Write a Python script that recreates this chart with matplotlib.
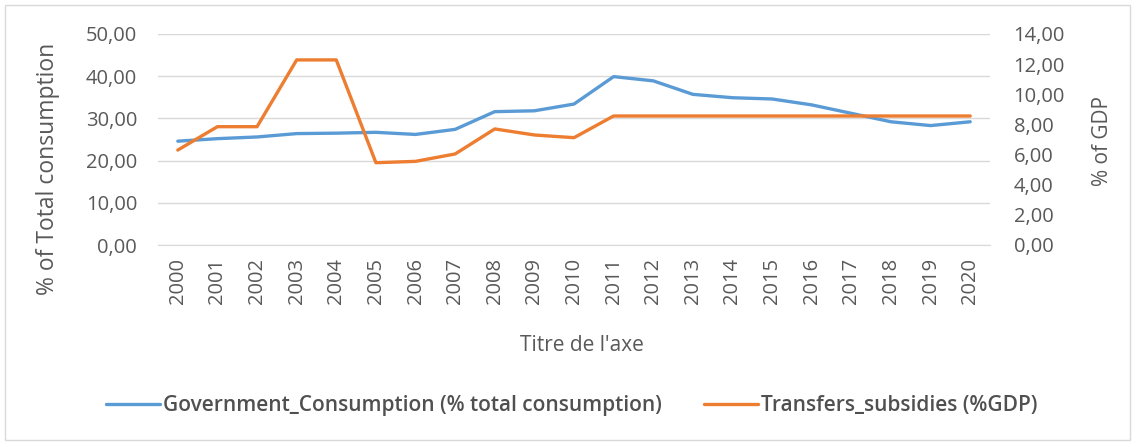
import matplotlib
matplotlib.use("Agg")
import matplotlib.pyplot as plt
from matplotlib.ticker import FuncFormatter, MultipleLocator
from matplotlib.patches import Rectangle

years = [str(y) for y in range(2000, 2021)]
gov_consumption = [24.6, 25.2, 25.6, 26.4, 26.5, 26.7, 26.2, 27.4, 31.6, 31.8, 33.4,
                   39.9, 38.9, 35.7, 34.9, 34.6, 33.2, 31.2, 29.2, 28.3, 29.2]
transfers = [6.3, 7.85, 7.85, 12.28, 12.28, 5.46, 5.55, 6.04, 7.7, 7.3, 7.12,
             8.56, 8.56, 8.56, 8.56, 8.56, 8.56, 8.56, 8.56, 8.56, 8.56]

BLUE = "#5B9BD5"
ORANGE = "#ED7D31"
TXT = "#595959"
plt.rcParams['font.family'] = ['Open Sans', 'DejaVu Sans']

W, H = 1137, 445
fig = plt.figure(figsize=(W / 100, H / 100), dpi=100)
fig.patch.set_facecolor("white")
fig.patches.append(Rectangle((5 / W, 5 / H), 1125 / W, 435 / H, transform=fig.transFigure,
                             fill=False, edgecolor="#D9D9D9", linewidth=1))

left, right, top, bottom = 158, 990, 34, 245
pw, ph = right - left, bottom - top
ax = fig.add_axes([left / W, 1 - bottom / H, pw / W, ph / H])
ax2 = ax.twinx()

x = list(range(len(years)))
ax.plot(x, gov_consumption, color=BLUE, lw=2.4, solid_capstyle="round", zorder=3,
        label="Government_Consumption (% total consumption)")
ax2.plot(x, transfers, color=ORANGE, lw=2.4, solid_capstyle="round", zorder=3,
         label="Transfers_subsidies (%GDP)")

ax.set_xlim(-0.5, len(years) - 0.5)
ax.set_ylim(0, 50)
ax2.set_ylim(0, 14)
ax.yaxis.set_major_locator(MultipleLocator(10))
ax2.yaxis.set_major_locator(MultipleLocator(2))
fmt = FuncFormatter(lambda v, p: f"{v:.2f}".replace(".", ","))
ax.yaxis.set_major_formatter(fmt)
ax2.yaxis.set_major_formatter(fmt)

ax.set_xticks(x)
ax.set_xticklabels(years, rotation=90, fontsize=14.5, color=TXT)
ax.grid(axis="y", color="#D9D9D9", lw=1)
ax.set_axisbelow(True)
for a in (ax, ax2):
    for s in a.spines.values():
        s.set_visible(False)
    a.tick_params(length=0, labelsize=14.5, colors=TXT)
ax.spines["bottom"].set_visible(True)
ax.spines["bottom"].set_color("#D9D9D9")
ax.tick_params(axis="y", pad=15)
ax2.tick_params(axis="y", pad=17)
ax.tick_params(axis="x", pad=9)

ax.set_ylabel("% of Total consumption", fontsize=16.5, color=TXT)
ax.yaxis.set_label_coords((60 - left) / pw, (bottom - 169) / ph)
ax2.set_ylabel("% of GDP", fontsize=15, color=TXT)
ax2.yaxis.set_label_coords((1092 - left) / pw, (bottom - 141) / ph)
ax.set_xlabel("Titre de l'axe", fontsize=15, color=TXT)
ax.xaxis.set_label_coords((582 - left) / pw, (bottom - 335) / ph)

h1, l1 = ax.get_legend_handles_labels()
h2, l2 = ax2.get_legend_handles_labels()
fig.legend(h1 + h2, l1 + l2, loc="center", bbox_to_anchor=(572 / W, 1 - 406 / H), ncol=2,
           frameon=False, prop={"size": 15, "weight": "semibold"}, labelcolor="#505050",
           handlelength=2.6, handletextpad=0.15, columnspacing=2.0)

fig.savefig("out.png", dpi=100, facecolor="white")
